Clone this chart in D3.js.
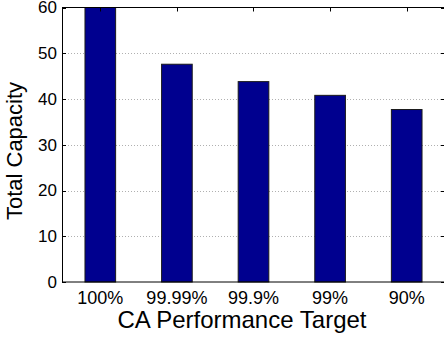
<!DOCTYPE html>
<html>
<head>
<meta charset="utf-8">
<script src="https://cdnjs.cloudflare.com/ajax/libs/d3/7.8.5/d3.min.js"></script>
<style>
  html, body { margin: 0; padding: 0; background: #fff; }
  svg { display: block; font-family: "Liberation Sans", Arial, Helvetica, sans-serif; }
</style>
</head>
<body>
<svg id="chart" width="444" height="340"></svg>
<script>
// Capacity needed for each CA performance target
const categories = ["100%", "99.99%", "99.9%", "99%", "90%"];
const capacity = [60, 47.6, 43.8, 40.8, 37.7];
const yTicks = [0, 10, 20, 30, 40, 50, 60];

const svg = d3.select("#chart");
const plot = { left: 62, right: 445, top: 7.5, bottom: 282 };

const x = d3.scaleBand()
  .domain(categories)
  .range([plot.left, plot.right])
  .paddingInner(0.6)
  .paddingOuter(0.3);

const y = d3.scaleLinear()
  .domain([0, 60])
  .range([plot.bottom, plot.top]);

// dotted horizontal grid
svg.append("g")
  .selectAll("line")
  .data(yTicks.filter(t => t > 0 && t < 60))
  .join("line")
  .attr("x1", plot.left).attr("x2", plot.right)
  .attr("y1", d => Math.round(y(d)) + 0.5).attr("y2", d => Math.round(y(d)) + 0.5)
  .attr("stroke", "#b0b0b0")
  .attr("stroke-width", 1)
  .attr("stroke-dasharray", "1,2");

// bars
svg.append("g")
  .selectAll("rect")
  .data(categories.map((c, i) => ({ c, v: capacity[i] })))
  .join("rect")
  .attr("x", d => x(d.c))
  .attr("width", x.bandwidth())
  .attr("y", d => y(d.v))
  .attr("height", d => y(0) - y(d.v))
  .attr("fill", "#00008f")
  .attr("stroke", "#1a1a1a")
  .attr("stroke-width", 1);

// inner tick marks
const ticksG = svg.append("g").attr("stroke", "#000").attr("stroke-width", 1);
yTicks.forEach(t => {
  const yy = Math.round(y(t)) + 0.5;
  ticksG.append("line").attr("x1", plot.left).attr("x2", plot.left + 4).attr("y1", yy).attr("y2", yy);
  ticksG.append("line").attr("x1", plot.right - 4).attr("x2", plot.right).attr("y1", yy).attr("y2", yy);
});
categories.forEach(c => {
  const xx = Math.round(x(c) + x.bandwidth() / 2) + 0.5;
  ticksG.append("line").attr("x1", xx).attr("x2", xx).attr("y1", plot.top).attr("y2", plot.top + 4);
});

// axes
const yAxis = svg.append("g")
  .attr("transform", `translate(${plot.left},0)`)
  .call(d3.axisLeft(y).tickValues(yTicks).tickSize(0).tickPadding(5));
yAxis.selectAll("text").attr("font-size", 17);
const xAxis = svg.append("g")
  .attr("transform", `translate(0,${plot.bottom})`)
  .call(d3.axisBottom(x).tickSize(0).tickPadding(9));
xAxis.selectAll("text").attr("font-size", 18);
[yAxis, xAxis].forEach(g => {
  g.select(".domain").remove();
  g.selectAll("text").attr("fill", "#000")
    .attr("font-family", "'Liberation Sans', Arial, sans-serif");
});

// plot frame
svg.append("rect")
  .attr("x", plot.left + 0.5).attr("y", plot.top)
  .attr("width", plot.right - plot.left).attr("height", plot.bottom - plot.top)
  .attr("fill", "none").attr("stroke", "#000").attr("stroke-width", 1);

// axis titles
svg.append("text")
  .attr("x", 242)
  .attr("y", 328)
  .attr("text-anchor", "middle")
  .attr("font-size", 24)
  .text("CA Performance Target");

svg.append("text")
  .attr("transform", `translate(22,151) rotate(-90)`)
  .attr("text-anchor", "middle")
  .attr("font-size", 22)
  .text("Total Capacity");
</script>
</body>
</html>
